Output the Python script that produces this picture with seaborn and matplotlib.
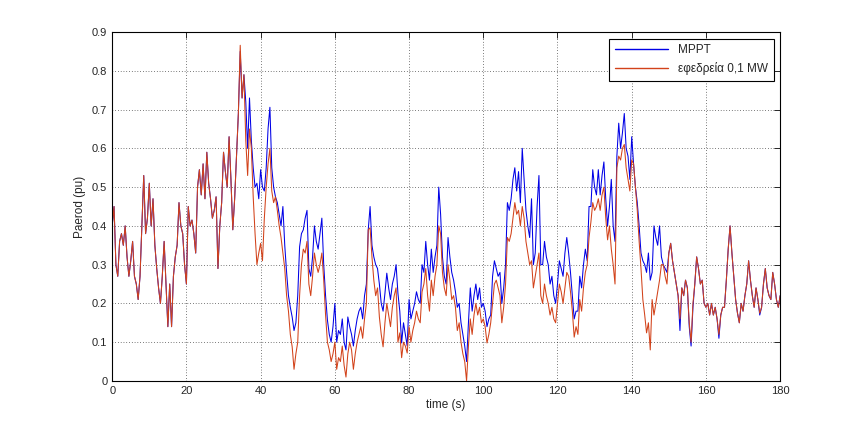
import numpy as np
import pandas as pd
import matplotlib
matplotlib.use("Agg")
import matplotlib.pyplot as plt
import seaborn as sns

# time grid: one value every 0.5 s from 0 to 180 s
time_s = np.arange(0, 180.5, 0.5)

# εφεδρεία 0,1 MW (20 values per 10 s)
reserve = [
    0.40, 0.45, 0.30, 0.27, 0.36, 0.38, 0.35, 0.40, 0.32, 0.27, 0.31, 0.36, 0.27, 0.25, 0.21, 0.27, 0.40, 0.53, 0.38, 0.42,
    0.51, 0.40, 0.47, 0.35, 0.29, 0.24, 0.20, 0.27, 0.36, 0.25, 0.14, 0.25, 0.14, 0.27, 0.32, 0.35, 0.46, 0.40, 0.38, 0.30,
    0.25, 0.45, 0.40, 0.415, 0.38, 0.33, 0.50, 0.545, 0.48, 0.56, 0.47, 0.59, 0.51, 0.47, 0.42, 0.44, 0.475, 0.29, 0.40, 0.46,
    0.59, 0.54, 0.50, 0.63, 0.52, 0.39, 0.47, 0.58, 0.69, 0.866, 0.73, 0.79, 0.62, 0.53, 0.65, 0.60, 0.475, 0.38, 0.30, 0.33,
    0.355, 0.31, 0.42, 0.50, 0.56, 0.60, 0.49, 0.46, 0.475, 0.44, 0.40, 0.37, 0.33, 0.29, 0.22, 0.18, 0.12, 0.088, 0.03, 0.07,
    0.10, 0.22, 0.30, 0.34, 0.33, 0.36, 0.25, 0.22, 0.27, 0.33, 0.30, 0.28, 0.30, 0.33, 0.26, 0.17, 0.10, 0.08, 0.05, 0.07,
    0.10, 0.03, 0.06, 0.05, 0.09, 0.04, 0.01, 0.07, 0.10, 0.08, 0.03, 0.07, 0.10, 0.12, 0.14, 0.11, 0.16, 0.20, 0.39, 0.395,
    0.32, 0.26, 0.22, 0.24, 0.165, 0.12, 0.088, 0.15, 0.20, 0.17, 0.14, 0.19, 0.22, 0.24, 0.10, 0.124, 0.06, 0.10, 0.09, 0.072,
    0.14, 0.10, 0.13, 0.15, 0.18, 0.16, 0.15, 0.23, 0.25, 0.29, 0.22, 0.18, 0.26, 0.22, 0.27, 0.30, 0.40, 0.38, 0.28, 0.24,
    0.22, 0.30, 0.26, 0.21, 0.22, 0.19, 0.13, 0.15, 0.10, 0.07, 0.05, 0.00, 0.09, 0.16, 0.12, 0.17, 0.20, 0.17, 0.19, 0.15,
    0.16, 0.14, 0.098, 0.12, 0.15, 0.20, 0.25, 0.26, 0.24, 0.22, 0.15, 0.19, 0.25, 0.37, 0.36, 0.38, 0.42, 0.46, 0.43, 0.44,
    0.40, 0.45, 0.42, 0.36, 0.33, 0.30, 0.31, 0.24, 0.27, 0.30, 0.33, 0.22, 0.20, 0.25, 0.22, 0.20, 0.17, 0.19, 0.16, 0.15,
    0.20, 0.25, 0.23, 0.20, 0.24, 0.28, 0.27, 0.23, 0.18, 0.113, 0.14, 0.12, 0.21, 0.18, 0.24, 0.28, 0.30, 0.37, 0.41, 0.46,
    0.44, 0.45, 0.47, 0.44, 0.48, 0.50, 0.42, 0.364, 0.40, 0.34, 0.30, 0.25, 0.55, 0.58, 0.57, 0.60, 0.61, 0.55, 0.52, 0.49,
    0.57, 0.56, 0.50, 0.44, 0.36, 0.29, 0.21, 0.17, 0.124, 0.15, 0.08, 0.21, 0.17, 0.20, 0.23, 0.26, 0.30, 0.30, 0.27, 0.25,
    0.33, 0.355, 0.31, 0.28, 0.25, 0.22, 0.16, 0.24, 0.22, 0.26, 0.24, 0.15, 0.10, 0.20, 0.25, 0.32, 0.29, 0.25, 0.26, 0.20,
    0.19, 0.20, 0.17, 0.20, 0.17, 0.19, 0.16, 0.12, 0.17, 0.19, 0.19, 0.26, 0.34, 0.40, 0.33, 0.27, 0.21, 0.175, 0.15, 0.20,
    0.18, 0.22, 0.25, 0.31, 0.26, 0.22, 0.19, 0.24, 0.21, 0.175, 0.19, 0.25, 0.29, 0.24, 0.22, 0.21, 0.28, 0.25, 0.21, 0.19,
    0.22,
]

# MPPT
mppt = [
    0.40, 0.45, 0.30, 0.27, 0.36, 0.38, 0.35, 0.40, 0.32, 0.27, 0.31, 0.36, 0.27, 0.25, 0.21, 0.27, 0.40, 0.53, 0.38, 0.42,
    0.51, 0.40, 0.47, 0.35, 0.29, 0.24, 0.20, 0.27, 0.36, 0.25, 0.14, 0.25, 0.14, 0.27, 0.32, 0.35, 0.46, 0.40, 0.38, 0.30,
    0.25, 0.45, 0.40, 0.415, 0.38, 0.33, 0.50, 0.545, 0.48, 0.56, 0.47, 0.59, 0.51, 0.47, 0.42, 0.44, 0.475, 0.29, 0.40, 0.46,
    0.59, 0.54, 0.50, 0.63, 0.52, 0.39, 0.47, 0.58, 0.69, 0.85, 0.73, 0.79, 0.72, 0.60, 0.73, 0.62, 0.55, 0.50, 0.51, 0.47,
    0.545, 0.50, 0.49, 0.55, 0.65, 0.706, 0.55, 0.50, 0.475, 0.46, 0.43, 0.40, 0.45, 0.35, 0.28, 0.22, 0.19, 0.165, 0.13, 0.15,
    0.22, 0.346, 0.38, 0.39, 0.42, 0.44, 0.29, 0.27, 0.32, 0.40, 0.36, 0.34, 0.38, 0.42, 0.30, 0.22, 0.157, 0.12, 0.10, 0.14,
    0.20, 0.10, 0.13, 0.12, 0.16, 0.10, 0.08, 0.165, 0.14, 0.12, 0.09, 0.13, 0.16, 0.18, 0.19, 0.16, 0.22, 0.25, 0.39, 0.45,
    0.35, 0.32, 0.30, 0.29, 0.25, 0.20, 0.18, 0.226, 0.278, 0.24, 0.21, 0.25, 0.27, 0.30, 0.226, 0.18, 0.098, 0.15, 0.12, 0.09,
    0.21, 0.16, 0.18, 0.20, 0.23, 0.21, 0.20, 0.30, 0.28, 0.36, 0.30, 0.26, 0.34, 0.28, 0.32, 0.35, 0.50, 0.43, 0.32, 0.27,
    0.25, 0.37, 0.32, 0.28, 0.26, 0.23, 0.19, 0.20, 0.15, 0.12, 0.09, 0.05, 0.15, 0.24, 0.18, 0.22, 0.25, 0.21, 0.24, 0.19,
    0.20, 0.18, 0.14, 0.16, 0.17, 0.27, 0.31, 0.29, 0.27, 0.28, 0.20, 0.24, 0.30, 0.46, 0.44, 0.47, 0.52, 0.55, 0.49, 0.54,
    0.46, 0.60, 0.52, 0.44, 0.40, 0.37, 0.47, 0.30, 0.33, 0.45, 0.53, 0.30, 0.30, 0.36, 0.32, 0.30, 0.25, 0.27, 0.22, 0.20,
    0.25, 0.31, 0.29, 0.27, 0.33, 0.37, 0.33, 0.28, 0.22, 0.16, 0.18, 0.18, 0.27, 0.24, 0.30, 0.34, 0.31, 0.45, 0.45, 0.545,
    0.50, 0.48, 0.545, 0.48, 0.53, 0.565, 0.47, 0.40, 0.45, 0.52, 0.40, 0.36, 0.58, 0.665, 0.60, 0.64, 0.69, 0.60, 0.58, 0.52,
    0.63, 0.56, 0.50, 0.46, 0.40, 0.33, 0.31, 0.30, 0.28, 0.33, 0.26, 0.28, 0.40, 0.37, 0.35, 0.40, 0.32, 0.30, 0.29, 0.28,
    0.33, 0.355, 0.31, 0.28, 0.25, 0.22, 0.13, 0.24, 0.22, 0.26, 0.24, 0.14, 0.09, 0.19, 0.25, 0.32, 0.29, 0.25, 0.26, 0.20,
    0.19, 0.20, 0.17, 0.20, 0.17, 0.19, 0.16, 0.11, 0.17, 0.19, 0.19, 0.26, 0.34, 0.40, 0.33, 0.27, 0.21, 0.175, 0.15, 0.20,
    0.18, 0.22, 0.25, 0.31, 0.26, 0.22, 0.19, 0.24, 0.21, 0.17, 0.19, 0.25, 0.29, 0.24, 0.22, 0.21, 0.28, 0.25, 0.21, 0.19,
    0.22,
]

series_names = ["MPPT", "εφεδρεία 0,1 MW"]
series_colors = ["#0000e6", "#d2421a"]
x_ticks = [0, 20, 40, 60, 80, 100, 120, 140, 160, 180]
y_ticks = [0, 0.1, 0.2, 0.3, 0.4, 0.5, 0.6, 0.7, 0.8, 0.9]
y_tick_labels = ["0", "0.1", "0.2", "0.3", "0.4", "0.5", "0.6", "0.7", "0.8", "0.9"]

df = pd.concat([
    pd.DataFrame({"t": time_s, "p": mppt, "case": series_names[0]}),
    pd.DataFrame({"t": time_s, "p": reserve, "case": series_names[1]}),
])

sns.set_style("white")
plt.rcParams["font.family"] = ["Liberation Sans", "DejaVu Sans"]

fig = plt.figure(figsize=(8.63, 4.28), dpi=100)
ax = fig.add_axes([0.13, 0.11, 0.774, 0.815])

sns.lineplot(data=df, x="t", y="p", hue="case", palette=series_colors,
             estimator=None, linewidth=0.75, ax=ax)

ax.set_xlim(0, 180)
ax.set_ylim(0, 0.9)
ax.set_xticks(x_ticks)
ax.set_yticks(y_ticks)
ax.set_yticklabels(y_tick_labels)
ax.tick_params(direction="in", top=True, right=True, labelsize=8, length=4, width=0.7)
ax.grid(True, linestyle=(0, (1, 3)), color="black", linewidth=0.5)
for s in ax.spines.values():
    s.set_color("black")
    s.set_linewidth(0.8)

ax.set_xlabel("time (s)", fontsize=8.5, labelpad=2)
ax.set_ylabel("Paerod (pu)", fontsize=8.5, labelpad=4)

leg = ax.legend(loc="upper right", fontsize=8.5, frameon=True, fancybox=False,
                edgecolor="black", framealpha=1, borderaxespad=0.55,
                handlelength=4.5, borderpad=0.5, labelspacing=0.45)
leg.get_frame().set_linewidth(0.8)
for line in leg.get_lines():
    line.set_linewidth(1.0)

fig.savefig("out.png", dpi=100)
